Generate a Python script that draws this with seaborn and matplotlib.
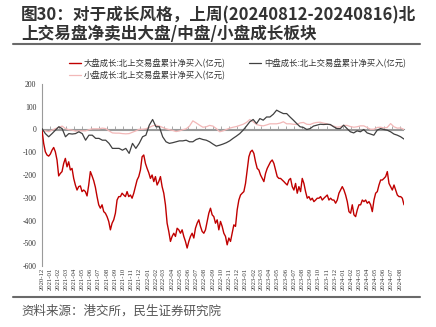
import numpy as np
import pandas as pd
import matplotlib
matplotlib.use('Agg')
import matplotlib.pyplot as plt
import matplotlib.dates as mdates
from matplotlib.lines import Line2D
import seaborn as sns

# ---------------- data ----------------
START = '2020-12-01'
END = '2024-08-16'

month_labels = [
    '2020-12',
    '2021-01', '2021-02', '2021-03', '2021-04', '2021-05', '2021-06',
    '2021-07', '2021-08', '2021-09', '2021-10', '2021-11', '2021-12',
    '2022-01', '2022-02', '2022-03', '2022-04', '2022-05', '2022-06',
    '2022-07', '2022-08', '2022-09', '2022-10', '2022-11', '2022-12',
    '2023-01', '2023-02', '2023-03', '2023-04', '2023-05', '2023-06',
    '2023-07', '2023-08', '2023-09', '2023-10', '2023-11', '2023-12',
    '2024-01', '2024-02', '2024-03', '2024-04', '2024-05', '2024-06',
    '2024-07', '2024-08',
]

large_growth = [
    -3, -61, -98, -112, -117, -108, -91, -79, -98, -134,
    -204, -193, -185, -149, -127, -164, -142, -178, -171, -215,
    -244, -266, -251, -248, -273, -266, -273, -292, -244, -185,
    -204, -225, -254, -295, -331, -346, -331, -361, -368, -383,
    -404, -441, -412, -397, -368, -310, -295, -295, -280, -288,
    -295, -273, -295, -288, -302, -280, -251, -222, -207, -178,
    -120, -112, -149, -171, -190, -215, -200, -229, -207, -244,
    -229, -207, -251, -280, -331, -412, -448, -492, -470, -456,
    -470, -434, -441, -456, -441, -470, -492, -521, -492, -470,
    -456, -477, -434, -412, -397, -426, -448, -456, -441, -404,
    -368, -346, -375, -383, -412, -397, -441, -404,
    -426, -456, -470, -507, -477, -492, -456, -419, -426, -353,
    -310, -288, -280, -273, -237, -178, -120, -98, -91, -105,
    -142, -171, -178, -200, -215, -229, -193, -171, -156, -142,
    -134, -149, -178, -207, -215, -215, -222, -229, -237, -244,
    -222, -215, -251, -266, -237, -280, -251, -273, -215, -237,
    -273, -302, -295, -310, -302, -317, -310, -302, -302, -295,
    -310, -302, -295, -288, -310, -302, -310, -310, -324, -310,
    -280, -266, -251, -266, -288, -317, -361, -368, -331, -375,
    -383, -353, -331, -331, -310, -317, -310, -324, -317, -331,
    -361, -310, -280, -273, -244, -222, -222, -215, -207, -185,
    -237, -251, -266, -244, -266, -288, -295, -295, -302, -331,
]

mid_growth = [
    4, -18, -32, -18, -3, 12, 4, -32, -18, -20,
    -18, -10, -18, -47, -25, -25, -39, -39, -47, -47,
    -61, -83, -83, -83, -91, -83, -105, -61, -83, -61,
    -32, -25, 19, 44, 12, 12, -32, -54, -61, -58,
    -54, -50, -50, -47, -54, -54, -44, -39, -44, -47,
    -54, -64, -73, -69,
    -64, -58, -50, -39, -29, -18, -3, 15, 34, 44,
    26, 48, 41, 55, 55, 67, 85, 77, 70, 70,
    55, 41, 26, 12, 9, 0, 4, 15, 19, 23,
    22, 23, 22, 12, 4, 4, 19, 4, -10, -15,
    -6, -10, 0, -15, -20, -25, -3, 4, 0, -3,
    -10, -20, -25, -32, -42,
]

small_growth = [
    -3, -6, -10, -3, 4, 9, 15, 4, -1, -3,
    -7, -6, -6, -6, -1, 3, 3, 3, 6, 4,
    -6, -15, -16, -16, -18, -19, -18, -12, -6, 1,
    1, 3, 9, 16, 19, 15, 9, 3, -1, -4,
    -9, -6, -1, 3, 15, 38, 29, 19, 10, 12,
    18, 15, 4, -10,
    -6, 0, 6, 10, 13, 18, 23, 31, 44, 34,
    22, 18, 16, 20, 25, 25, 25, 28, 34, 25,
    25, 23, 22, 29, 31, 23, 22, 28, 31, 32,
    28, 25, 20, 15, 10, 12, 18, 18, 13, 10,
    12, 16, 16, 9, 1, 1, 9, 10, 7, 9,
    26, 12, 6, 7, 0,
]

series_names = [
    '大盘成长:北上交易盘累计净买入(亿元)',
    '中盘成长:北上交易盘累计净买入(亿元)',
    '小盘成长:北上交易盘累计净买入(亿元)',
]
y_ticks = [-600, -500, -400, -300, -200, -100, 0, 100, 200]

# ---------------- style ----------------
sns.set_style('white')
plt.rcParams['font.family'] = ['Noto Sans CJK SC', 'DejaVu Sans']
plt.rcParams['axes.unicode_minus'] = False

W, H = 436, 327
fig = plt.figure(figsize=(W / 100, H / 100), dpi=100)


def fx(px):
    return px / W


def fy(py):
    return 1 - py / H


ax = fig.add_axes([fx(42), fy(266), fx(404) - fx(42), fy(84) - fy(266)])


def series_df(vals):
    d = pd.date_range(START, END, periods=len(vals))
    return pd.DataFrame({'date': d, 'value': vals})


ax.axhline(0, color='#9a9a9a', lw=0.8, zorder=1)
sns.lineplot(data=series_df(large_growth), x='date', y='value', ax=ax,
             color='#C00000', lw=1.0, label=series_names[0], zorder=3)
sns.lineplot(data=series_df(mid_growth), x='date', y='value', ax=ax,
             color='#404040', lw=0.9, label=series_names[1], zorder=3)
sns.lineplot(data=series_df(small_growth), x='date', y='value', ax=ax,
             color='#F2B8B8', lw=0.9, label=series_names[2], zorder=2)

ax.set_xlim(pd.Timestamp(START), pd.Timestamp(END))
ax.set_ylim(-600, 200)
ax.set_xlabel('')
ax.set_ylabel('')

for s in ['top', 'right', 'bottom']:
    ax.spines[s].set_visible(False)
ax.spines['left'].set_color('#9a9a9a')
ax.spines['left'].set_linewidth(0.8)

ax.set_yticks(y_ticks)
ax.set_yticklabels([str(v) for v in y_ticks], fontsize=5.5,
                   family='Liberation Serif', color='#333333')
ax.tick_params(axis='y', direction='out', length=2, width=0.6,
               color='#9a9a9a', pad=2)

tick_dates = pd.to_datetime([m + '-01' for m in month_labels])
ax.set_xticks(tick_dates)
ax.set_xticklabels(month_labels, rotation=90, fontsize=4.8,
                   family='Liberation Serif', color='#333333')
ax.tick_params(axis='x', length=0, pad=1.5)

# zero-line axis with small tick marks
sec = ax.secondary_xaxis(0.75)
sec.set_xticks(mdates.date2num(tick_dates))
sec.tick_params(axis='x', direction='out', length=2, width=0.6,
                color='#9a9a9a', labeltop=False, labelbottom=False)
for s in sec.spines.values():
    s.set_color('#9a9a9a')
    s.set_linewidth(0.8)

# legend
handles, labels = ax.get_legend_handles_labels()
order = [0, 2, 1]
leg = ax.legend([handles[i] for i in order], [labels[i] for i in order],
                ncol=2, loc='upper left',
                bbox_to_anchor=(fx(69), fy(59)), bbox_transform=fig.transFigure,
                frameon=False, fontsize=6, handlelength=1.45,
                handletextpad=0.35, columnspacing=2.8, labelspacing=0.35,
                borderpad=0, borderaxespad=0)
for t in leg.get_texts():
    t.set_color('#333333')

# title, rules and source
fig.text(fx(21), fy(15), '图30：对于成长风格，上周(20240812-20240816)北',
         fontsize=12, fontweight='bold', color='#333333', va='center', ha='left')
fig.text(fx(21), fy(34), '上交易盘净卖出大盘/中盘/小盘成长板块',
         fontsize=12, fontweight='bold', color='#333333', va='center', ha='left')
fig.add_artist(Line2D([fx(13), fx(420)], [fy(44), fy(44)], color='#6a6a6a',
                      lw=1.5, transform=fig.transFigure))
fig.add_artist(Line2D([fx(13), fx(420)], [fy(297), fy(297)], color='#6a6a6a',
                      lw=1.5, transform=fig.transFigure))
fig.text(fx(21), fy(311), '资料来源：港交所，民生证券研究院',
         fontsize=9, color='#555555', va='center', ha='left')

fig.savefig('out.png', dpi=100)
